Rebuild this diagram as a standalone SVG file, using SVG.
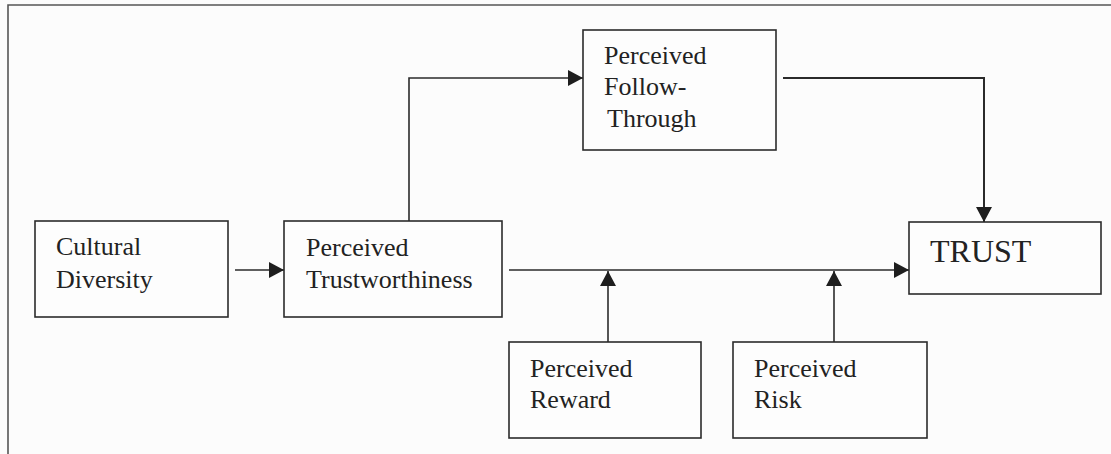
<svg xmlns="http://www.w3.org/2000/svg" width="1111" height="454" viewBox="0 0 1111 454">
  <style>
    .box { fill: #fdfdfd; stroke: #2b2b2b; stroke-width: 1.6; }
    .lbl { font-family: "Liberation Serif", "Times New Roman", serif; font-size: 26px; fill: #222; }
    .big { font-size: 32px; }
    .wire { fill: none; stroke: #2b2b2b; stroke-width: 1.6; }
    .frame { fill: none; stroke: #555; stroke-width: 1.6; }
  </style>
  <defs>
    <marker id="arrow" viewBox="0 0 15 16" refX="15" refY="8" markerWidth="15" markerHeight="16" markerUnits="userSpaceOnUse" orient="auto">
      <path d="M0,0 L15,8 L0,16 Z" fill="#1e1e1e"/>
    </marker>
  </defs>

  <rect width="1111" height="454" fill="#fcfcfc"/>

  <!-- page frame (top and left edges) -->
  <path class="frame" d="M8,454 V5 H1111"/>

  <!-- connectors -->
  <g id="connectors">
    <line class="wire" x1="235" y1="270" x2="284" y2="270" marker-end="url(#arrow)"/>
    <polyline class="wire" points="409,221 409,78 583,78" marker-end="url(#arrow)"/>
    <polyline class="wire" points="783,78 984,78 984,222" marker-end="url(#arrow)" style="stroke-width:2"/>
    <line class="wire" x1="509" y1="270" x2="909" y2="270" marker-end="url(#arrow)"/>
    <line class="wire" x1="608" y1="342" x2="608" y2="271" marker-end="url(#arrow)"/>
    <line class="wire" x1="834" y1="342" x2="834" y2="271" marker-end="url(#arrow)"/>
  </g>

  <g id="cultural-diversity">
    <rect class="box" x="35" y="221" width="193" height="96"/>
    <text class="lbl" x="56" y="255">Cultural</text>
    <text class="lbl" x="56" y="288">Diversity</text>
  </g>

  <g id="perceived-trustworthiness">
    <rect class="box" x="284" y="221" width="218" height="96"/>
    <text class="lbl" x="306" y="256">Perceived</text>
    <text class="lbl" x="306" y="288">Trustworthiness</text>
  </g>

  <g id="perceived-follow-through">
    <rect class="box" x="583" y="30" width="193" height="120"/>
    <text class="lbl" x="604" y="64">Perceived</text>
    <text class="lbl" x="604" y="95">Follow-</text>
    <text class="lbl" x="607" y="127">Through</text>
  </g>

  <g id="trust">
    <rect class="box" x="909" y="222" width="192" height="72"/>
    <text class="lbl big" x="930" y="262">TRUST</text>
  </g>

  <g id="perceived-reward">
    <rect class="box" x="509" y="342" width="192" height="96"/>
    <text class="lbl" x="530" y="377">Perceived</text>
    <text class="lbl" x="530" y="408">Reward</text>
  </g>

  <g id="perceived-risk">
    <rect class="box" x="733" y="342" width="194" height="96"/>
    <text class="lbl" x="754" y="377">Perceived</text>
    <text class="lbl" x="754" y="408">Risk</text>
  </g>
</svg>
